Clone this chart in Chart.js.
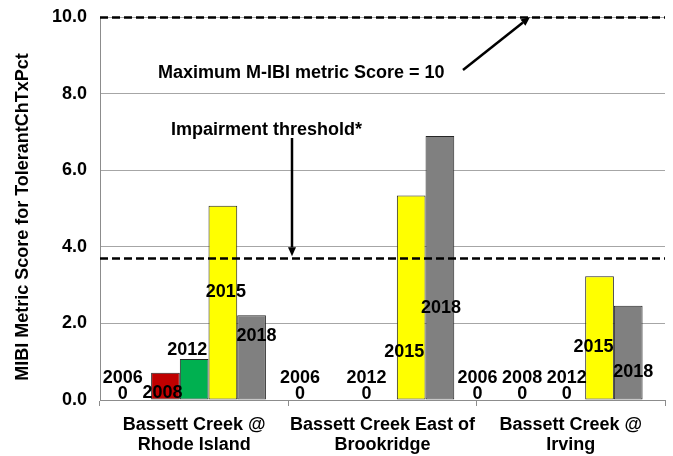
<!DOCTYPE html>
<html>
<head>
<meta charset="utf-8">
<script src="https://cdn.jsdelivr.net/npm/chart.js@4/dist/chart.umd.min.js"></script>
<style>
  html, body { margin: 0; padding: 0; background: #fff; }
  #wrap { width: 673px; height: 456px; }
</style>
</head>
<body>
<div id="wrap"><canvas id="mycanvas" width="673" height="456"></canvas></div>
<script>
var sites = [["Bassett Creek @", "Rhode Island"], ["Bassett Creek East of", "Brookridge"], ["Bassett Creek @", "Irving"]];
var years = ["2006", "2008", "2012", "2015", "2018"];
var score2006 = [0, 0, 0];
var score2008 = [0.71, null, 0];
var score2012 = [1.07, 0, 0];
var score2015 = [5.07, 5.34, 3.23];
var score2018 = [2.21, 6.89, 2.46];
var yTicks = [0, 2, 4, 6, 8, 10];
var maxScore = 10;
var threshold = 3.7;
var yTitle = 'MIBI Metric Score for TolerantChTxPct';

var colors = ['#C00000', '#C00000', '#00B050', '#FFFF00', '#808080'];
var FONT = '"Liberation Sans", Arial, sans-serif';

// where the year labels sit: [dx px from bar centre, y value of label centre]
var labelPos = {
  '1-0': [-3, 0.18], '2-0': [-7, 1.31], '3-0': [3, 2.82], '4-0': [5, 1.67],
  '3-1': [-7, 1.25], '4-1': [1, 2.40],
  '3-2': [-6, 1.38], '4-2': [5, 0.73]
};
// zero-value labels are shifted left a bit
var zeroShift = { '0-0': -14, '0-1': -25, '2-1': -16, '0-2': -36, '1-2': -20, '2-2': -4 };

var barLabels = {
  id: 'barLabels',
  afterDatasetsDraw: function(chart) {
    var ctx = chart.ctx;
    var y = chart.scales.y;
    ctx.save();
    ctx.fillStyle = '#000';
    ctx.font = 'bold 18px ' + FONT;
    ctx.textAlign = 'center';
    ctx.textBaseline = 'middle';
    chart.data.datasets.forEach(function(ds, i) {
      var meta = chart.getDatasetMeta(i);
      ds.data.forEach(function(v, j) {
        if (v === null) return;
        var bar = meta.data[j];
        var key = i + '-' + j;
        if (v === 0) {
          var x0 = bar.x + (zeroShift[key] || 0);
          ctx.fillText(years[i], x0, y.bottom - 22);
          ctx.fillText('0', x0, y.bottom - 6);
        } else {
          var p = labelPos[key] || [0, v / 2];
          ctx.fillText(years[i], bar.x + p[0], y.getPixelForValue(p[1]));
        }
      });
    });
    // rotated y axis title
    ctx.translate(23, 217);
    ctx.rotate(-Math.PI / 2);
    ctx.fillText(yTitle, 0, 0);
    ctx.restore();
  }
};

function arrow(ctx, x1, y1, x2, y2) {
  var a = Math.atan2(y2 - y1, x2 - x1);
  var L = 9, W = 4;
  ctx.beginPath();
  ctx.moveTo(x1, y1);
  ctx.lineTo(x2 - L * Math.cos(a), y2 - L * Math.sin(a));
  ctx.stroke();
  ctx.beginPath();
  ctx.moveTo(x2, y2);
  ctx.lineTo(x2 - L * Math.cos(a) + W * Math.sin(a), y2 - L * Math.sin(a) - W * Math.cos(a));
  ctx.lineTo(x2 - L * Math.cos(a) - W * Math.sin(a), y2 - L * Math.sin(a) + W * Math.cos(a));
  ctx.closePath();
  ctx.fill();
}

var refLines = {
  id: 'refLines',
  afterDatasetsDraw: function(chart) {
    var ctx = chart.ctx;
    var a = chart.chartArea;
    var y = chart.scales.y;
    ctx.save();
    ctx.strokeStyle = '#000';
    ctx.fillStyle = '#000';
    ctx.lineWidth = 2.5;
    ctx.setLineDash([8, 4]);
    [maxScore, threshold].forEach(function(v) {
      var py = Math.round(y.getPixelForValue(v)) + 0.5;
      ctx.beginPath();
      ctx.moveTo(a.left, py);
      ctx.lineTo(a.right, py);
      ctx.stroke();
    });
    ctx.setLineDash([]);
    ctx.font = 'bold 18px ' + FONT;
    ctx.textAlign = 'left';
    ctx.textBaseline = 'middle';
    ctx.fillText('Maximum M-IBI metric Score = 10', 158, 73);
    ctx.fillText('Impairment threshold*', 171, 130);
    ctx.lineWidth = 2.5;
    arrow(ctx, 463, 70, 530, y.getPixelForValue(maxScore));
    arrow(ctx, 292, 138, 292, y.getPixelForValue(threshold) - 2);
    ctx.restore();
  }
};

var datasets = [score2006, score2008, score2012, score2015, score2018].map(function(d, i) {
  return {
    label: years[i],
    data: d,
    backgroundColor: colors[i],
    borderColor: '#262626',
    borderWidth: function(c) { return c.raw ? 1 : 0; },
    borderSkipped: false,
    categoryPercentage: 0.762,
    barPercentage: 1.0
  };
});

var ctx = document.getElementById('mycanvas');
var chart = new Chart(ctx, {
  type: 'bar',
  data: { labels: sites, datasets: datasets },
  plugins: [refLines, barLabels],
  options: {
    responsive: false,
    animation: false,
    layout: { padding: { left: 8, right: 8, top: 17, bottom: 0 } },
    plugins: { legend: { display: false }, tooltip: { enabled: false } },
    scales: {
      x: {
        grid: { offset: true, drawOnChartArea: false, color: '#8c8c8c', tickLength: 6 },
        border: { color: '#8c8c8c', width: 1 },
        ticks: { color: '#000', font: { family: FONT, size: 18, weight: 'bold', lineHeight: 1.12 }, padding: 9, maxRotation: 0 },
        afterFit: function(s) { s.height = 56; }
      },
      y: {
        min: 0,
        max: 10,
        afterBuildTicks: function(s) { s.ticks = yTicks.map(function(v) { return { value: v }; }); },
        grid: { color: '#a6a6a6', drawTicks: true, tickLength: 13, tickColor: 'rgba(0,0,0,0)' },
        border: { color: '#8c8c8c', width: 1 },
        ticks: {
          color: '#000',
          padding: 0,
          font: { family: FONT, size: 18, weight: 'bold' },
          callback: function(v) { return v.toFixed(1); }
        },
        afterFit: function(s) { s.width = 92; }
      }
    }
  }
});
</script>
</body>
</html>
